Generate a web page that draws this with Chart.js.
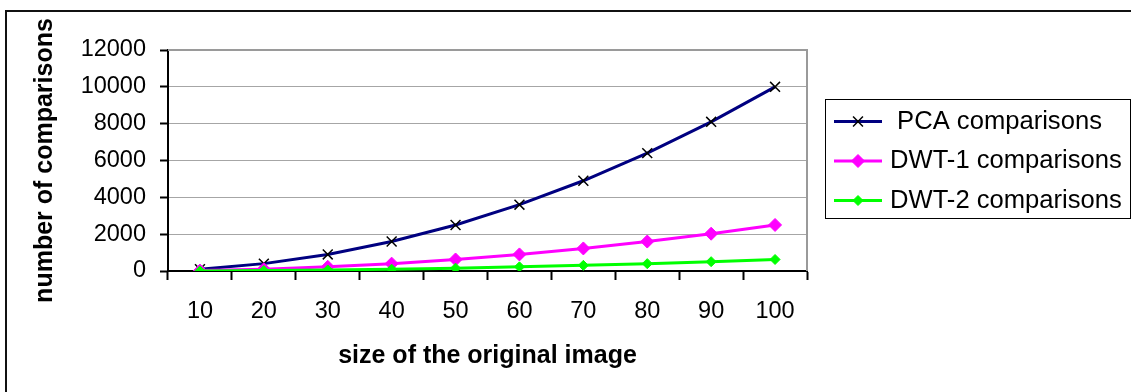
<!DOCTYPE html>
<html>
<head>
<meta charset="utf-8">
<script src="https://cdn.jsdelivr.net/npm/chart.js@4/dist/chart.umd.min.js"></script>
<style>
  html, body { margin: 0; padding: 0; background: #fff; }
  #wrap { width: 1131px; height: 392px; }
</style>
</head>
<body>
<div id="wrap"><canvas id="c" width="1131" height="392"></canvas></div>
<script>
// Image sizes on the x axis
const sizes = ['10', '20', '30', '40', '50', '60', '70', '80', '90', '100'];

// Number of comparisons per method
const pcaComparisons  = [100, 400, 900, 1600, 2500, 3600, 4900, 6400, 8100, 10000];
const dwt1Comparisons = [25, 100, 225, 400, 625, 900, 1225, 1600, 2025, 2500];
const dwt2Comparisons = [6, 25, 56, 100, 156, 225, 306, 400, 506, 625];

// Series names
const seriesNames = [' PCA comparisons', 'DWT-1 comparisons', 'DWT-2 comparisons'];

// Y axis range
const yMin = 0, yMax = 12000, yStep = 2000;

const FONT = '"Liberation Sans", Arial, sans-serif';

// Outer frame and plot-area border
const framePlugin = {
  id: 'frame',
  beforeDraw(chart) {
    const ctx = chart.ctx;
    ctx.save();
    ctx.fillStyle = '#fff';
    ctx.fillRect(0, 0, chart.width, chart.height);
    ctx.strokeStyle = '#111';
    ctx.lineWidth = 2;
    ctx.beginPath();
    ctx.moveTo(6, chart.height);
    ctx.lineTo(6, 11);
    ctx.lineTo(chart.width, 11);
    ctx.stroke();
    ctx.restore();
  },
  beforeDatasetsDraw(chart) {
    const a = chart.chartArea;
    const ctx = chart.ctx;
    ctx.save();
    ctx.strokeStyle = '#9a9a9a';
    ctx.lineWidth = 2;
    ctx.beginPath();
    ctx.moveTo(a.left, a.top);
    ctx.lineTo(a.right, a.top);
    ctx.lineTo(a.right, a.bottom);
    ctx.stroke();
    ctx.restore();
  }
};

function drawMarker(ctx, style, x, y, r, fill, stroke, lw) {
  ctx.save();
  ctx.lineWidth = lw;
  ctx.strokeStyle = stroke;
  ctx.fillStyle = fill;
  ctx.beginPath();
  if (style === 'crossRot') {
    const d = r * Math.SQRT1_2;
    ctx.moveTo(x - d, y - d); ctx.lineTo(x + d, y + d);
    ctx.moveTo(x - d, y + d); ctx.lineTo(x + d, y - d);
    ctx.stroke();
  } else {
    ctx.moveTo(x, y - r); ctx.lineTo(x + r, y); ctx.lineTo(x, y + r); ctx.lineTo(x - r, y);
    ctx.closePath();
    ctx.fill();
    ctx.stroke();
  }
  ctx.restore();
}

// Boxed legend to the right of the plot
const legendBoxPlugin = {
  id: 'legendBox',
  afterDraw(chart) {
    const ctx = chart.ctx;
    const box = { x: 825, y: 99, w: 305, h: 119 };
    ctx.save();
    ctx.strokeStyle = '#000';
    ctx.lineWidth = 1;
    ctx.strokeRect(box.x + 0.5, box.y + 0.5, box.w, box.h);
    const rows = [121.5, 161, 200.5];
    chart.data.datasets.forEach((ds, i) => {
      const y = rows[i];
      ctx.strokeStyle = ds.borderColor;
      ctx.lineWidth = ds.borderWidth;
      ctx.beginPath();
      ctx.moveTo(834, y);
      ctx.lineTo(882, y);
      ctx.stroke();
      drawMarker(ctx, ds.pointStyle, 858, y, ds.pointRadius, ds.pointBackgroundColor, ds.pointBorderColor, ds.pointBorderWidth);
      ctx.fillStyle = '#000';
      ctx.font = '25.6px ' + FONT;
      ctx.textAlign = 'left';
      ctx.textBaseline = 'middle';
      ctx.fillText(ds.label, 890, y);
    });
    ctx.restore();
  }
};

new Chart(document.getElementById('c'), {
  type: 'line',
  data: {
    labels: sizes,
    datasets: [
      {
        label: seriesNames[0],
        data: pcaComparisons,
        borderColor: '#000080',
        borderWidth: 3,
        pointStyle: 'crossRot',
        pointRadius: 7,
        pointBorderColor: '#000',
        pointBackgroundColor: '#000',
        pointBorderWidth: 1.5,
        tension: 0,
        order: 2
      },
      {
        label: seriesNames[1],
        data: dwt1Comparisons,
        borderColor: '#FF00FF',
        borderWidth: 3,
        pointStyle: 'rectRot',
        pointRadius: 6.5,
        pointBorderColor: '#FF00FF',
        pointBackgroundColor: '#FF00FF',
        pointBorderWidth: 1,
        tension: 0,
        order: 1
      },
      {
        label: seriesNames[2],
        data: dwt2Comparisons,
        borderColor: '#00FF00',
        borderWidth: 3,
        pointStyle: 'rectRot',
        pointRadius: 5,
        pointBorderColor: '#00FF00',
        pointBackgroundColor: '#00FF00',
        pointBorderWidth: 1,
        tension: 0,
        order: 0
      }
    ]
  },
  options: {
    responsive: false,
    animation: false,
    devicePixelRatio: 1,
    layout: { padding: { left: 8, top: 50, right: 324, bottom: 0 } },
    plugins: {
      legend: { display: false },
      tooltip: { enabled: false }
    },
    scales: {
      x: {
        offset: true,
        grid: {
          offset: true,
          drawOnChartArea: false,
          drawTicks: true,
          tickLength: 9,
          tickColor: '#000',
          tickWidth: 2
        },
        border: { color: '#000', width: 2 },
        ticks: {
          color: '#000',
          font: { family: FONT, size: 23.5 },
          padding: 17,
          maxRotation: 0,
          autoSkip: false
        },
        title: {
          display: true,
          text: 'size of the original image',
          color: '#000',
          font: { family: FONT, size: 25, weight: 'bold' },
          padding: { top: 0, bottom: 21 }
        },
        afterFit(scale) { scale.height = 121; }
      },
      y: {
        min: yMin,
        max: yMax,
        grid: {
          color: (c) => (c.tick && c.tick.value === 0) ? 'rgba(0,0,0,0)' : '#a6a6a6',
          lineWidth: 1,
          tickLength: 8,
          tickColor: '#000',
          tickWidth: 2
        },
        border: { color: '#000', width: 2 },
        ticks: {
          stepSize: yStep,
          color: '#000',
          font: { family: FONT, size: 23.5 },
          padding: 14,
          callback: (v) => String(v)
        },
        title: {
          display: true,
          text: 'number of comparisons',
          color: '#000',
          font: { family: FONT, size: 25, weight: 'bold' },
          padding: { top: 22, bottom: 0 }
        },
        afterFit(scale) { scale.width = 160; }
      }
    }
  },
  plugins: [framePlugin, legendBoxPlugin]
});
</script>
</body>
</html>
